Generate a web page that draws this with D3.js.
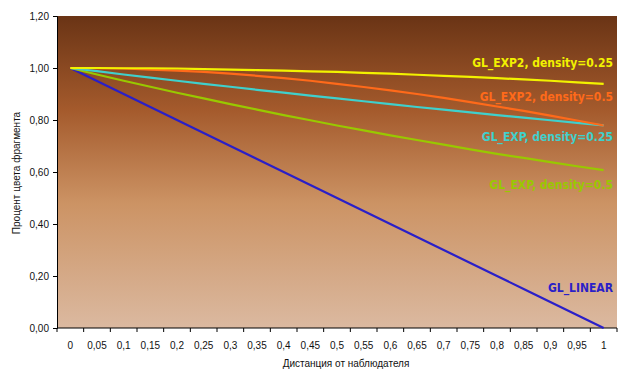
<!DOCTYPE html>
<html>
<head>
<meta charset="utf-8">
<script src="https://cdn.jsdelivr.net/npm/d3@7/dist/d3.min.js"></script>
<style>
  body { margin: 0; background: #fff; }
  svg { display: block; font-family: "Liberation Sans", Arial, sans-serif; }
  .tick text { font-size: 10px; fill: #111; }
  .lbl { font-family: "DejaVu Sans Condensed", "DejaVu Sans", sans-serif; font-weight: bold; font-size: 12px; }
</style>
</head>
<body>
<div id="chart"></div>
<script>
var distances = ["0","0,05","0,1","0,15","0,2","0,25","0,3","0,35","0,4","0,45","0,5",
                 "0,55","0,6","0,65","0,7","0,75","0,8","0,85","0,9","0,95","1"];

var glLinear = [1,0.95,0.9,0.85,0.8,0.75,0.7,0.65,0.6,0.55,0.5,0.45,0.4,0.35,0.3,0.25,0.2,0.15,0.1,0.05,0];
var glExp05  = [1,0.975,0.951,0.928,0.905,0.883,0.861,0.840,0.819,0.799,0.779,0.760,0.741,0.723,0.705,0.687,0.670,0.654,0.638,0.622,0.607];
var glExp025 = [1,0.988,0.975,0.963,0.951,0.939,0.928,0.916,0.905,0.894,0.883,0.872,0.861,0.850,0.840,0.829,0.819,0.809,0.799,0.789,0.779];
var glExp2_05  = [1,0.999,0.998,0.994,0.990,0.985,0.978,0.970,0.961,0.951,0.939,0.927,0.914,0.900,0.885,0.869,0.852,0.835,0.817,0.798,0.779];
var glExp2_025 = [1,1.000,0.999,0.999,0.998,0.996,0.994,0.992,0.990,0.987,0.985,0.981,0.978,0.974,0.970,0.966,0.961,0.956,0.951,0.945,0.939];

var yTicks = [0,0.2,0.4,0.6,0.8,1.0,1.2];

var series = [
  {name: "GL_EXP2, density=0.25", values: glExp2_025, color: "#f2f200", lx: 613, ly: 67},
  {name: "GL_EXP2, density=0.5", values: glExp2_05, color: "#ff6a1a", lx: 613, ly: 101},
  {name: "GL_EXP, density=0.25", values: glExp025, color: "#3fd0cc", lx: 613, ly: 141},
  {name: "GL_EXP, density=0.5", values: glExp05, color: "#99c800", lx: 613, ly: 189},
  {name: "GL_LINEAR", values: glLinear, color: "#2a1fc8", lx: 613, ly: 292}
];

var W = 623, H = 376;
var margin = {left: 57, right: 6, top: 16, bottom: 48};
var width = W - margin.left - margin.right;
var height = H - margin.top - margin.bottom;

var svg = d3.select("#chart").append("svg").attr("width", W).attr("height", H);

var defs = svg.append("defs");
var grad = defs.append("linearGradient").attr("id", "bg")
  .attr("x1", 0).attr("y1", 0).attr("x2", 0).attr("y2", 1);
grad.append("stop").attr("offset", "0%").attr("stop-color", "#6a3415");
grad.append("stop").attr("offset", "30%").attr("stop-color", "#a45a2c");
grad.append("stop").attr("offset", "60%").attr("stop-color", "#cc9364");
grad.append("stop").attr("offset", "100%").attr("stop-color", "#dbb9a0");

var g = svg.append("g").attr("transform", "translate(" + margin.left + "," + margin.top + ")");

var x = d3.scaleBand().domain(distances).range([0, width]);
var y = d3.scaleLinear().domain([0, 1.2]).range([height, 0]);

g.append("rect").attr("width", width).attr("height", height).attr("fill", "url(#bg)");

// x axis: ticks between categories, like Excel
var xAxisG = g.append("g").attr("transform", "translate(0," + height + ")");
xAxisG.append("line").attr("x1", 0).attr("x2", width).attr("stroke", "#000");
xAxisG.selectAll(".xt").data(d3.range(distances.length + 1)).enter().append("line")
  .attr("x1", function(i) { return i * x.step(); })
  .attr("x2", function(i) { return i * x.step(); })
  .attr("y1", 0).attr("y2", 4).attr("stroke", "#000");
xAxisG.selectAll(".tick").data(distances).enter().append("g").attr("class", "tick")
  .append("text")
  .attr("x", function(d) { return x(d) + x.bandwidth() / 2; })
  .attr("y", 21)
  .attr("text-anchor", "middle")
  .text(function(d) { return d; });

var yAxis = d3.axisLeft(y).tickValues(yTicks).tickSize(4).tickPadding(4)
  .tickFormat(function(d) { return d3.format(".2f")(d).replace(".", ","); });
g.append("g").call(yAxis).call(function(s) { s.select(".domain").attr("stroke", "#000"); });

var line = d3.line()
  .x(function(d, i) { return x(distances[i]) + x.bandwidth() / 2; })
  .y(function(d) { return y(d); });

series.slice().reverse().forEach(function(s) {
  g.append("path").attr("d", line(s.values)).attr("fill", "none")
    .attr("stroke", s.color).attr("stroke-width", 2.2);
});

series.forEach(function(s) {
  svg.append("text").attr("class", "lbl")
    .attr("x", s.lx).attr("y", s.ly)
    .attr("text-anchor", "end")
    .attr("fill", s.color)
    .text(s.name);
});

svg.append("text").attr("x", 346).attr("y", 367).attr("text-anchor", "middle")
  .style("font-size", "10px").attr("fill", "#111").text("Дистанция от наблюдателя");
svg.append("text").attr("transform", "translate(20,173) rotate(-90)").attr("text-anchor", "middle")
  .style("font-size", "10px").attr("fill", "#111").text("Процент цвета фрагмента");
</script>
</body>
</html>
